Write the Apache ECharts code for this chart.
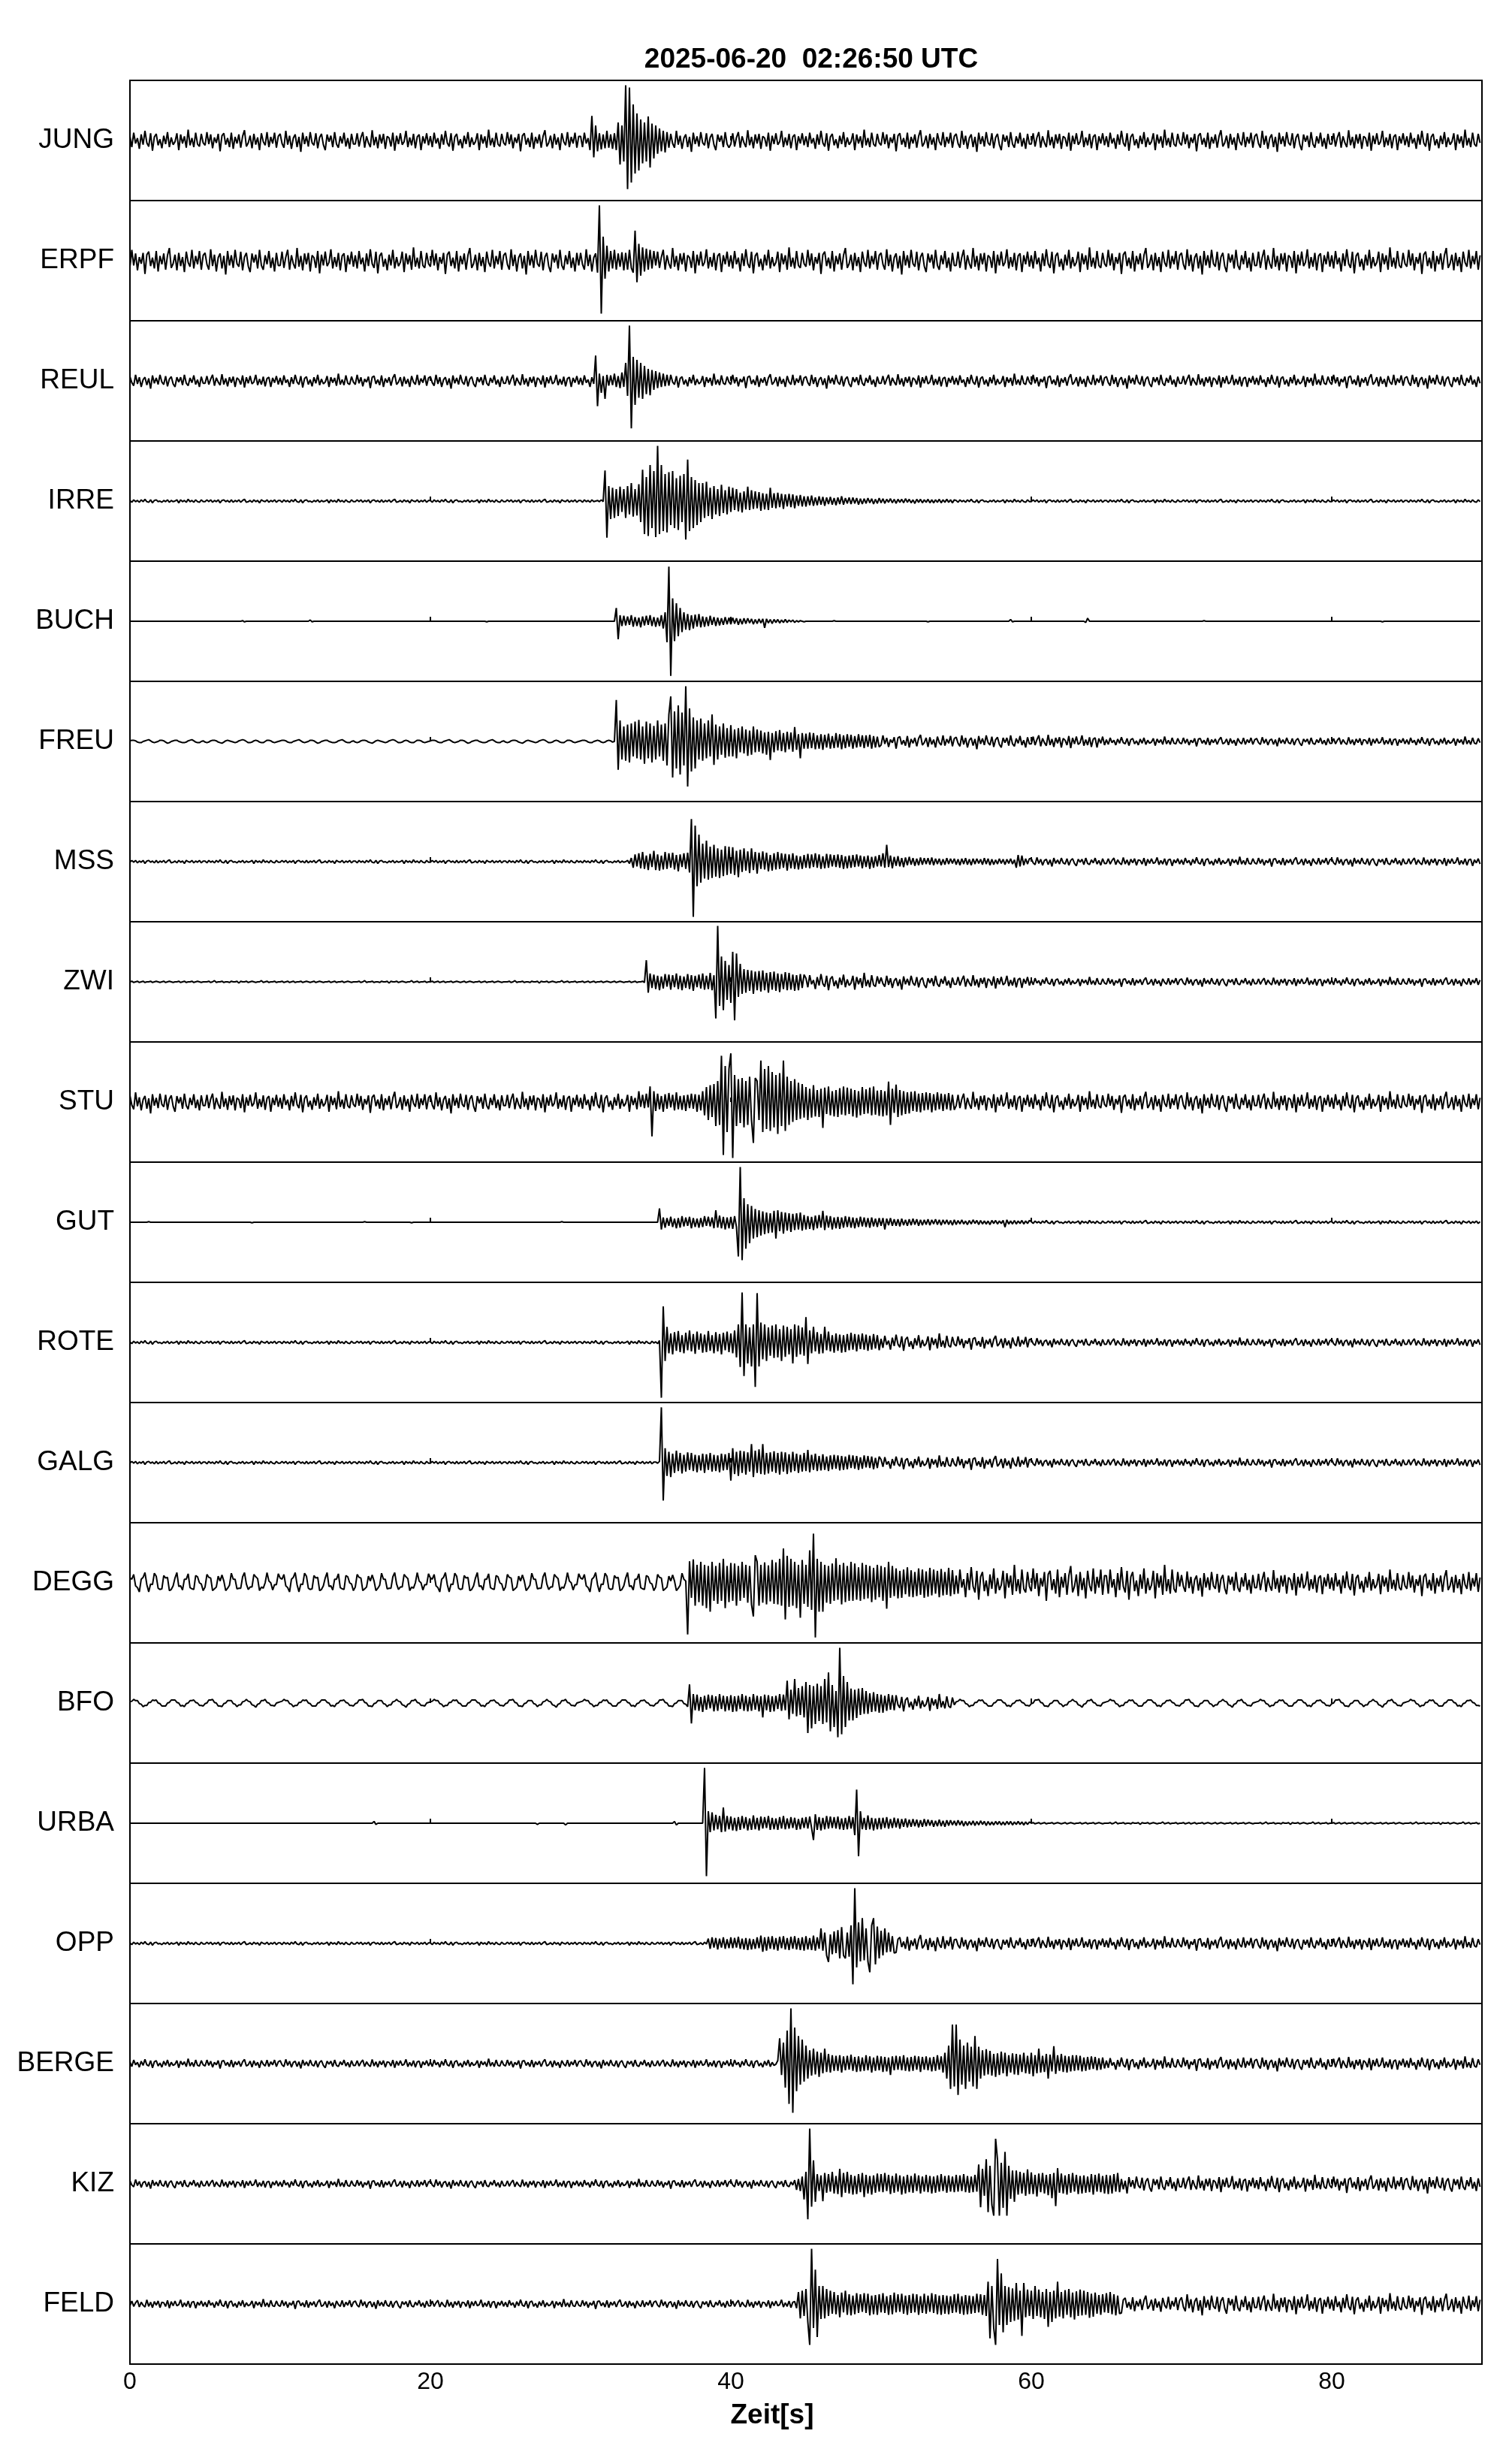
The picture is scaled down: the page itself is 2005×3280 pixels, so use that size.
<!DOCTYPE html>
<html><head><meta charset="utf-8">
<script src="https://cdn.jsdelivr.net/npm/echarts@6/dist/echarts.min.js"></script>
<style>html,body{margin:0;padding:0;background:#fff}#c{width:2005px;height:3280px}</style>
</head><body><div id="c"></div>
<script>
// ---- data: amplitude in % of half panel height, one sample every 0.125 s (each row = 5 s) ----
const titleText = '2025-06-20  02:26:50 UTC';
const xAxisName = 'Zeit[s]';
const stations = ['JUNG','ERPF','REUL','IRRE','BUCH','FREU','MSS','ZWI','STU','GUT','ROTE','GALG','DEGG','BFO','URBA','OPP','BERGE','KIZ','FELD'];
const sampleStep = 0.125;
const timeMin = 0, timeMax = 90, timeTick = 20;

const JUNG = [
7,-11,13,-5,4,-14,10,-7,16,-4,-10,12,-17,6,11,-8,2,-13,8,-6,14,-11,5,-7,-2,12,-16,10,-5,7,-12,18,-8,4,-11,13,-6,-10,11,-4,
-8,14,-6,10,-13,5,-4,11,-18,8,12,-7,4,-11,13,-14,6,-5,10,-12,7,17,-10,-4,8,-13,11,-7,5,-16,12,-2,-8,14,-11,6,-5,13,-12,7,
11,-5,-12,16,-7,8,-14,4,10,-11,6,-19,13,-6,7,-10,14,-4,-8,12,-13,5,11,-7,-16,10,-2,8,-11,14,-6,-12,7,-5,13,-10,4,-14,11,-6,
-6,12,-10,5,14,-12,7,-4,-11,17,-8,6,-13,10,-5,11,-14,7,4,-10,13,-17,8,-6,12,-7,-2,16,-11,5,-8,11,-13,6,10,-16,7,-5,12,-8,
7,-11,13,-5,4,-14,10,-7,16,-4,-10,12,-17,6,11,-8,2,-13,8,-6,14,-11,5,-7,-2,12,-16,10,-5,7,-12,18,-8,4,-11,13,-6,-10,11,-4,
-8,14,-6,10,-13,5,-4,11,-18,8,12,-7,4,-11,13,-14,6,-5,10,-12,7,17,-10,-4,8,-13,11,-7,5,-16,12,-2,-8,14,-11,6,-5,13,-12,7,
7,-11,13,-5,4,-16,41,-28,25,-18,12,-15,10,-13,16,-12,10,-14,12,-16,30,-40,25,-35,92,-81,88,-70,60,-55,45,-50,35,-38,30,-35,40,-45,28,-30,
25,-22,20,-18,16,-20,14,-12,11,-5,-12,16,-7,8,-14,4,10,-11,6,-19,13,-6,7,-10,14,-4,-8,12,-13,5,11,-7,-16,10,-2,8,-11,14,-6,-12,
-6,12,-10,5,14,-12,7,-4,-11,17,-8,6,-13,10,-5,11,-14,7,4,-10,13,-17,8,-6,12,-7,-2,16,-11,5,-8,11,-13,6,10,-16,7,-5,12,-8,
7,-11,13,-5,4,-14,10,-7,16,-4,-10,12,-17,6,11,-8,2,-13,8,-6,14,-11,5,-7,-2,12,-16,10,-5,7,-12,18,-8,4,-11,13,-6,-10,11,-4,
-8,14,-6,10,-13,5,-4,11,-18,8,12,-7,4,-11,13,-14,6,-5,10,-12,7,17,-10,-4,8,-13,11,-7,5,-16,12,-2,-8,14,-11,6,-5,13,-12,7,
11,-5,-12,16,-7,8,-14,4,10,-11,6,-19,13,-6,7,-10,14,-4,-8,12,-13,5,11,-7,-16,10,-2,8,-11,14,-6,-12,7,-5,13,-10,4,-14,11,-6,
-6,12,-10,5,14,-12,7,-4,-11,17,-8,6,-13,10,-5,11,-14,7,4,-10,13,-17,8,-6,12,-7,-2,16,-11,5,-8,11,-13,6,10,-16,7,-5,12,-8,
7,-11,13,-5,4,-14,10,-7,16,-4,-10,12,-17,6,11,-8,2,-13,8,-6,14,-11,5,-7,-2,12,-16,10,-5,7,-12,18,-8,4,-11,13,-6,-10,11,-4,
-8,14,-6,10,-13,5,-4,11,-18,8,12,-7,4,-11,13,-14,6,-5,10,-12,7,17,-10,-4,8,-13,11,-7,5,-16,12,-2,-8,14,-11,6,-5,13,-12,7,
11,-5,-12,16,-7,8,-14,4,10,-11,6,-19,13,-6,7,-10,14,-4,-8,12,-13,5,11,-7,-16,10,-2,8,-11,14,-6,-12,7,-5,13,-10,4,-14,11,-6,
-6,12,-10,5,14,-12,7,-4,-11,17,-8,6,-13,10,-5,11,-14,7,4,-10,13,-17,8,-6,12,-7,-2,16,-11,5,-8,11,-13,6,10,-16,7,-5,12,-8,
7,-11,13,-5,4,-14,10,-7,16,-4,-10,12,-17,6,11,-8,2,-13,8,-6,14,-11,5,-7,-2,12,-16,10,-5,7,-12,18,-8,4,-11,13,-6,-10,11,-4];

const ERPF = [
-10,18,-8,12,-16,6,-5,13,-22,10,15,-9,5,-13,16,-18,8,-6,12,-15,9,21,-12,-5,10,-16,13,-9,6,-19,15,-3,-10,18,-13,8,-6,16,-15,9,
13,-6,-15,19,-9,10,-18,5,12,-13,8,-23,16,-8,9,-12,18,-5,-10,15,-16,6,13,-9,-19,12,-3,10,-13,18,-8,-15,9,-6,16,-12,5,-18,13,-8,
-8,15,-12,6,18,-15,9,-5,-13,21,-10,8,-16,12,-6,13,-18,9,5,-12,16,-21,10,-8,15,-9,-3,19,-13,6,-10,13,-16,8,12,-19,9,-6,15,-10,
9,-13,16,-6,5,-18,12,-9,19,-5,-12,15,-21,8,13,-10,3,-16,10,-8,18,-13,6,-9,-3,15,-19,12,-6,9,-15,22,-10,5,-13,16,-8,-12,13,-5,
-10,18,-8,12,-16,6,-5,13,-22,10,15,-9,5,-13,16,-18,8,-6,12,-15,9,21,-12,-5,10,-16,13,-9,6,-19,15,-3,-10,18,-13,8,-6,16,-15,9,
13,-6,-15,19,-9,10,-18,5,12,-13,8,-23,16,-8,9,-12,18,-5,-10,15,-16,6,13,-9,-19,12,-3,10,-13,18,-8,-15,9,-6,16,-12,5,-18,13,-8,
13,-6,-15,19,-9,10,-18,5,12,-20,92,-88,40,-30,25,-18,16,-13,18,-15,12,-10,14,-16,13,-15,18,-12,-20,50,-36,28,-25,22,-18,20,-15,18,-13,16,
-8,15,-12,6,18,-15,9,-5,-13,21,-10,8,-16,12,-6,13,-18,9,5,-12,16,-21,10,-8,15,-9,-3,19,-13,6,-10,13,-16,8,12,-19,9,-6,15,-10,
9,-13,16,-6,5,-18,12,-9,19,-5,-12,15,-21,8,13,-10,3,-16,10,-8,18,-13,6,-9,-3,15,-19,12,-6,9,-15,22,-10,5,-13,16,-8,-12,13,-5,
-10,18,-8,12,-16,6,-5,13,-22,10,15,-9,5,-13,16,-18,8,-6,12,-15,9,21,-12,-5,10,-16,13,-9,6,-19,15,-3,-10,18,-13,8,-6,16,-15,9,
13,-6,-15,19,-9,10,-18,5,12,-13,8,-23,16,-8,9,-12,18,-5,-10,15,-16,6,13,-9,-19,12,-3,10,-13,18,-8,-15,9,-6,16,-12,5,-18,13,-8,
-8,15,-12,6,18,-15,9,-5,-13,21,-10,8,-16,12,-6,13,-18,9,5,-12,16,-21,10,-8,15,-9,-3,19,-13,6,-10,13,-16,8,12,-19,9,-6,15,-10,
9,-13,16,-6,5,-18,12,-9,19,-5,-12,15,-21,8,13,-10,3,-16,10,-8,18,-13,6,-9,-3,15,-19,12,-6,9,-15,22,-10,5,-13,16,-8,-12,13,-5,
-10,18,-8,12,-16,6,-5,13,-22,10,15,-9,5,-13,16,-18,8,-6,12,-15,9,21,-12,-5,10,-16,13,-9,6,-19,15,-3,-10,18,-13,8,-6,16,-15,9,
13,-6,-15,19,-9,10,-18,5,12,-13,8,-23,16,-8,9,-12,18,-5,-10,15,-16,6,13,-9,-19,12,-3,10,-13,18,-8,-15,9,-6,16,-12,5,-18,13,-8,
-8,15,-12,6,18,-15,9,-5,-13,21,-10,8,-16,12,-6,13,-18,9,5,-12,16,-21,10,-8,15,-9,-3,19,-13,6,-10,13,-16,8,12,-19,9,-6,15,-10,
9,-13,16,-6,5,-18,12,-9,19,-5,-12,15,-21,8,13,-10,3,-16,10,-8,18,-13,6,-9,-3,15,-19,12,-6,9,-15,22,-10,5,-13,16,-8,-12,13,-5,
-10,18,-8,12,-16,6,-5,13,-22,10,15,-9,5,-13,16,-18,8,-6,12,-15,9,21,-12,-5,10,-16,13,-9,6,-19,15,-3,-10,18,-13,8,-6,16,-15,9];

const REUL = [
7,-3,-8,10,-5,6,-10,2,6,-7,4,-13,9,-4,5,-6,10,-2,-6,8,-9,3,7,-5,-10,6,-2,6,-7,10,-4,-8,5,-3,9,-6,2,-10,7,-4,
-4,8,-6,3,10,-8,5,-2,-7,11,-6,4,-9,6,-3,7,-10,5,2,-6,9,-11,6,-4,8,-5,-2,10,-7,3,-6,7,-9,4,6,-10,5,-3,8,-6,
5,-7,9,-3,2,-10,6,-5,10,-2,-6,8,-11,4,7,-6,2,-9,6,-4,10,-7,3,-5,-2,8,-10,6,-3,5,-8,12,-6,2,-7,9,-4,-6,7,-2,
-6,10,-4,6,-9,3,-2,7,-12,6,8,-5,2,-7,9,-10,4,-3,6,-8,5,11,-6,-2,6,-9,7,-5,3,-10,8,-2,-6,10,-7,4,-3,9,-8,5,
7,-3,-8,10,-5,6,-10,2,6,-7,4,-13,9,-4,5,-6,10,-2,-6,8,-9,3,7,-5,-10,6,-2,6,-7,10,-4,-8,5,-3,9,-6,2,-10,7,-4,
-4,8,-6,3,10,-8,5,-2,-7,11,-6,4,-9,6,-3,7,-10,5,2,-6,9,-11,6,-4,8,-5,-2,10,-7,3,-6,7,-9,4,6,-10,5,-3,8,-6,
5,-7,9,-3,2,-10,6,-5,42,-42,12,-20,8,-30,10,-8,9,-7,12,-10,8,-12,14,-10,30,-25,92,-79,40,-40,35,-28,30,-30,25,-22,20,-24,18,-15,
16,-12,14,-10,12,-9,10,-8,10,-2,-6,8,-11,4,7,-6,2,-9,6,-4,10,-7,3,-5,-2,8,-10,6,-3,5,-8,12,-6,2,-7,9,-4,-6,7,-2,
-6,10,-4,6,-9,3,-2,7,-12,6,8,-5,2,-7,9,-10,4,-3,6,-8,5,11,-6,-2,6,-9,7,-5,3,-10,8,-2,-6,10,-7,4,-3,9,-8,5,
7,-3,-8,10,-5,6,-10,2,6,-7,4,-13,9,-4,5,-6,10,-2,-6,8,-9,3,7,-5,-10,6,-2,6,-7,10,-4,-8,5,-3,9,-6,2,-10,7,-4,
-4,8,-6,3,10,-8,5,-2,-7,11,-6,4,-9,6,-3,7,-10,5,2,-6,9,-11,6,-4,8,-5,-2,10,-7,3,-6,7,-9,4,6,-10,5,-3,8,-6,
5,-7,9,-3,2,-10,6,-5,10,-2,-6,8,-11,4,7,-6,2,-9,6,-4,10,-7,3,-5,-2,8,-10,6,-3,5,-8,12,-6,2,-7,9,-4,-6,7,-2,
-6,10,-4,6,-9,3,-2,7,-12,6,8,-5,2,-7,9,-10,4,-3,6,-8,5,11,-6,-2,6,-9,7,-5,3,-10,8,-2,-6,10,-7,4,-3,9,-8,5,
7,-3,-8,10,-5,6,-10,2,6,-7,4,-13,9,-4,5,-6,10,-2,-6,8,-9,3,7,-5,-10,6,-2,6,-7,10,-4,-8,5,-3,9,-6,2,-10,7,-4,
-4,8,-6,3,10,-8,5,-2,-7,11,-6,4,-9,6,-3,7,-10,5,2,-6,9,-11,6,-4,8,-5,-2,10,-7,3,-6,7,-9,4,6,-10,5,-3,8,-6,
5,-7,9,-3,2,-10,6,-5,10,-2,-6,8,-11,4,7,-6,2,-9,6,-4,10,-7,3,-5,-2,8,-10,6,-3,5,-8,12,-6,2,-7,9,-4,-6,7,-2,
-6,10,-4,6,-9,3,-2,7,-12,6,8,-5,2,-7,9,-10,4,-3,6,-8,5,11,-6,-2,6,-9,7,-5,3,-10,8,-2,-6,10,-7,4,-3,9,-8,5,
7,-3,-8,10,-5,6,-10,2,6,-7,4,-13,9,-4,5,-6,10,-2,-6,8,-9,3,7,-5,-10,6,-2,6,-7,10,-4,-8,5,-3,9,-6,2,-10,7,-4];

const IRRE = [
1,-2,2,-1,1,-2,2,-1,3,-1,-2,2,-3,1,2,-1,0,-2,1,-1,2,-2,1,-1,0,2,-3,2,-1,1,-2,3,-1,1,-2,2,-1,-2,2,-1,
-1,2,-1,2,-2,1,-1,2,-3,1,2,-1,1,-2,2,-2,1,-1,2,-2,1,3,-2,-1,1,-2,2,-1,1,-3,2,0,-1,2,-2,1,-1,2,-2,1,
1,-2,2,-1,1,-2,2,-1,3,-1,-2,2,-3,1,2,-1,0,-2,1,-1,2,-2,1,-1,0,2,-3,2,-1,1,-2,3,-1,1,-2,2,-1,-2,2,-1,
-1,2,-1,2,-2,1,-1,2,-3,1,2,-1,1,-2,2,-2,1,-1,2,-2,1,3,-2,-1,1,-2,2,-1,1,-3,2,0,-1,2,-2,1,-1,2,-2,1,
1,-2,2,-1,1,-2,2,-1,3,-1,-2,2,-3,1,2,-1,0,-2,1,-1,2,-2,1,-1,0,2,-3,2,-1,1,-2,3,-1,1,-2,2,-1,-2,2,-1,
-1,2,-1,2,-2,1,-1,2,-3,1,2,-1,1,-2,2,-2,1,-1,2,-2,1,3,-2,-1,1,-2,2,-1,1,-3,2,0,-1,2,-2,1,-1,2,-2,1,
1,-2,2,-1,1,-2,2,-1,0,1,-1,2,-1,51,-61,25,-30,22,-28,20,-25,24,-18,20,-28,25,-22,30,-26,20,-24,28,-35,52,-55,40,-58,60,-45,50,
-60,92,-55,60,-50,45,-52,48,-40,50,-45,38,-48,42,-35,45,-64,69,-50,40,-45,35,-40,30,-35,30,-28,32,-25,22,-30,25,-22,20,-25,27,-20,18,-22,24,
-18,22,-15,20,-17,14,-19,16,-14,24,-15,18,-13,16,-12,15,-16,13,-14,12,-15,22,-11,13,-12,14,-10,12,-13,11,-9,12,-10,11,-12,9,-8,10,-9,8,
-9,8,-7,9,-8,6,-7,8,-6,7,-8,6,-5,7,-6,5,-7,6,-5,8,-6,5,-4,6,-5,6,-4,5,-6,4,-5,4,-4,5,-3,4,-5,3,-4,5,
-3,4,-4,3,-2,4,-3,3,-4,3,-2,3,-3,4,-2,3,-3,2,-4,3,-2,3,-3,2,-2,3,-3,2,-3,2,-2,3,-3,2,-2,3,-2,2,-3,2,
1,-2,2,-1,1,-2,2,-1,3,-1,-2,2,-3,1,2,-1,0,-2,1,-1,2,-2,1,-1,0,2,-3,2,-1,1,-2,3,-1,1,-2,2,-1,-2,2,-1,
-1,2,-1,2,-2,1,-1,2,-3,1,2,-1,1,-2,2,-2,1,-1,2,-2,1,3,-2,-1,1,-2,2,-1,1,-3,2,0,-1,2,-2,1,-1,2,-2,1,
1,-2,2,-1,1,-2,2,-1,3,-1,-2,2,-3,1,2,-1,0,-2,1,-1,2,-2,1,-1,0,2,-3,2,-1,1,-2,3,-1,1,-2,2,-1,-2,2,-1,
-1,2,-1,2,-2,1,-1,2,-3,1,2,-1,1,-2,2,-2,1,-1,2,-2,1,3,-2,-1,1,-2,2,-1,1,-3,2,0,-1,2,-2,1,-1,2,-2,1,
1,-2,2,-1,1,-2,2,-1,3,-1,-2,2,-3,1,2,-1,0,-2,1,-1,2,-2,1,-1,0,2,-3,2,-1,1,-2,3,-1,1,-2,2,-1,-2,2,-1,
-1,2,-1,2,-2,1,-1,2,-3,1,2,-1,1,-2,2,-2,1,-1,2,-2,1,3,-2,-1,1,-2,2,-1,1,-3,2,0,-1,2,-2,1,-1,2,-2,1,
1,-2,2,-1,1,-2,2,-1,3,-1,-2,2,-3,1,2,-1,0,-2,1,-1,2,-2,1,-1,0,2,-3,2,-1,1,-2,3,-1,1,-2,2,-1,-2,2,-1];

const BUCH = [
0,0,0,0,0,0,0,0,0,0, 0,0,0,0,0,0,0,0,0,0, 0,0,0,0,0,0,0,0,0,0, 0,0,0,0,0,0,0,0,0,0,
0,0,0,0,0,0,0,0,0,0, 0,0,0,0,0,0,0,0,0,0, 1,-1,0,0,0,0,0,0,0,0, 0,0,0,0,0,0,0,0,0,0,
0,0,0,0,0,0,0,0,0,0, 0,0,0,0,0,0,2,-1,0,0, 0,0,0,0,0,0,0,0,0,0, 0,0,0,0,0,0,0,0,0,0,
0,0,0,0,0,0,0,0,0,0, 0,0,0,0,0,0,0,0,0,0, 0,0,0,0,0,0,0,0,0,0, 0,0,0,0,0,0,0,0,0,0,
0,0,0,0,0,0,0,0,0,0, 0,0,0,0,0,0,0,0,0,0, 0,0,0,0,0,0,0,0,0,0, -1,0,0,0,0,0,0,0,0,0,
0,0,0,0,0,0,0,0,0,0, 0,0,0,0,0,0,0,0,0,0, 0,0,0,0,0,0,0,0,0,0, 0,0,0,0,0,0,0,0,0,0,
0,0,0,0,0,0,0,0,0,0,0,0,0,0,0,0,0,0,0,22,-30,10,-8,9,-7,8,-6,10,-9,7,-8,6,-10,8,-7,9,-6,10,-8,7,
-9,6,-8,10,-12,15,-35,91,-91,38,-33,30,-25,22,-18,15,-14,12,-15,10,-12,11,-9,12,-10,8,-9,7,-8,9,-6,7,-8,6,-7,5,-6,7,-5,6,
-5,6,-4,5,-6,4,-5,5,-4,5,-3,4,-5,3,-4,4,-3,4,-11,4,-3,3,-4,3,-2,3,-3,2,-2,3,-2,2,-1,2,-2,1,-1,1,0,-1,
0,0,0,0,0,0,0,0,0,0, 0,0,0,0,0,1,0,0,0,0, 0,0,0,0,0,0,0,0,0,0, 0,0,0,0,0,0,0,0,0,0,
0,0,0,0,0,0,0,0,0,0, 0,0,0,0,0,0,0,0,0,0, 0,0,0,0,0,-1,0,0,0,0, 0,0,0,0,0,0,0,0,0,0,
0,0,0,0,0,0,0,0,0,0, 0,0,0,0,0,0,0,0,0,0, 0,0,0,0,0,0,0,0,0,3, -1,0,0,0,0,0,0,0,0,0,
0,0,0,0,0,0,0,0,0,0, 0,0,0,0,0,0,0,0,0,0, 0,0,0,0,0,0,0,0,0,-2, 5,0,0,0,0,0,0,0,0,0,
0,0,0,0,0,0,0,0,0,0, 0,0,0,0,0,0,0,0,0,0, 0,0,0,0,0,0,0,0,0,0, 0,0,0,0,0,0,0,0,0,0,
0,0,0,0,0,0,0,0,0,0, 0,0,1,0,0,0,0,0,0,0, 0,0,0,0,0,0,0,0,0,0, 0,0,0,0,0,0,0,0,0,0,
0,0,0,0,0,0,0,0,0,0, 0,0,0,0,0,0,0,0,0,0, 0,0,0,0,0,0,0,0,0,0, 0,0,0,0,0,0,0,0,0,0,
0,0,0,0,0,0,0,0,0,0, 0,0,0,0,0,0,0,0,0,0, 0,0,0,0,0,0,0,-1,0,0, 0,0,0,0,0,0,0,0,0,0,
0,0,0,0,0,0,0,0,0,0, 0,0,0,0,0,0,0,0,0,0, 0,0,0,0,0,0,0,0,0,0, 0,0,0,0,0,0,0,0,0,0];

const FREU = [
1,2,2,1,-1,-2,-2,0,1,2,3,1,-1,-2,-1,0,2,2,1,-1,-3,-2,0,1,2,2,0,-1,-2,-2,-1,1,2,3,1,-1,-2,-2,0,1,
-1,-2,-1,1,2,2,1,-1,-2,-3,-1,1,2,1,0,-1,-2,-1,1,2,3,2,0,-2,-2,-1,1,2,1,-1,-2,-2,0,2,2,1,-1,-2,-1,0,
1,2,2,1,-1,-2,-2,0,1,2,3,1,-1,-2,-1,0,2,2,1,-1,-3,-2,0,1,2,2,0,-1,-2,-2,-1,1,2,3,1,-1,-2,-2,0,1,
-1,-2,-1,1,2,2,1,-1,-2,-3,-1,1,2,1,0,-1,-2,-1,1,2,3,2,0,-2,-2,-1,1,2,1,-1,-2,-2,0,2,2,1,-1,-2,-1,0,
1,2,2,1,-1,-2,-2,0,1,2,3,1,-1,-2,-1,0,2,2,1,-1,-3,-2,0,1,2,2,0,-1,-2,-2,-1,1,2,3,1,-1,-2,-2,0,1,
-1,-2,-1,1,2,2,1,-1,-2,-3,-1,1,2,1,0,-1,-2,-1,1,2,3,2,0,-2,-2,-1,1,2,1,-1,-2,-2,0,2,2,1,-1,-2,-1,0,
1,2,2,1,-1,-2,-2,0,1,2,1,-1,-2,-1,1,2,1,-1,0,69,-47,35,-30,25,-32,28,-35,30,-25,33,-28,36,-30,25,-37,33,-28,30,-35,26,
-30,35,-25,28,-32,30,-40,45,75,-60,50,-45,60,-55,48,-40,92,-75,55,-50,40,-45,35,-30,38,-32,30,-28,35,-25,45,-39,28,-30,25,-22,30,-27,22,-25,
27,-25,20,-28,22,-18,25,-20,20,-24,18,-22,25,-18,20,-17,18,-20,15,-22,16,-31,14,-18,17,-15,19,-16,14,-18,16,-13,15,-17,24,-14,12,-28,14,-12,
13,-12,15,-11,14,-13,10,-12,12,-14,11,-10,13,-12,9,-11,14,-10,12,-13,10,-11,12,-9,11,-12,9,-10,12,-9,10,-11,10,-9,11,-12,9,-10,8,-9,
-6,10,-4,6,-9,3,-2,7,-12,6,8,-5,2,-7,9,-10,4,-3,6,-8,5,11,-6,-2,6,-9,7,-5,3,-10,8,-2,-6,10,-7,4,-3,9,-8,5,
7,-3,-8,10,-5,6,-10,2,6,-7,4,-13,9,-4,5,-6,10,-2,-6,8,-9,3,7,-5,-10,6,-2,6,-7,10,-4,-8,5,-3,9,-6,2,-10,7,-4,
-4,8,-6,3,10,-8,5,-2,-7,11,-6,4,-9,6,-3,7,-10,5,2,-6,9,-11,6,-4,8,-5,-2,10,-7,3,-6,7,-9,4,6,-10,5,-3,8,-6,
3,-5,6,-2,2,-6,4,-3,7,-2,-4,5,-7,3,5,-4,1,-6,4,-3,6,-5,2,-3,-1,5,-7,4,-2,3,-5,8,-4,2,-5,6,-3,-4,5,-2,
-4,6,-3,4,-6,2,-2,5,-8,4,5,-3,2,-5,6,-6,3,-2,4,-5,3,7,-4,-2,4,-6,5,-3,2,-7,5,-1,-4,6,-5,3,-2,6,-5,3,
5,-2,-5,7,-3,4,-6,2,4,-5,3,-8,6,-3,3,-4,6,-2,-4,5,-6,2,5,-3,-7,4,-1,4,-5,6,-3,-5,3,-2,6,-4,2,-6,5,-3,
-3,5,-4,2,6,-5,3,-2,-5,7,-4,3,-6,4,-2,5,-6,3,2,-4,6,-7,4,-3,5,-3,-1,7,-5,2,-4,5,-6,3,4,-7,3,-2,5,-4,
3,-5,6,-2,2,-6,4,-3,7,-2,-4,5,-7,3,5,-4,1,-6,4,-3,6,-5,2,-3,-1,5,-7,4,-2,3,-5,8,-4,2,-5,6,-3,-4,5,-2];

const MSS = [
-1,2,-1,2,-2,1,-1,2,-3,1,2,-1,1,-2,2,-2,1,-1,2,-2,1,3,-2,-1,1,-2,2,-1,1,-3,2,0,-1,2,-2,1,-1,2,-2,1,
1,-2,2,-1,1,-2,2,-1,3,-1,-2,2,-3,1,2,-1,0,-2,1,-1,2,-2,1,-1,0,2,-3,2,-1,1,-2,3,-1,1,-2,2,-1,-2,2,-1,
-1,2,-1,2,-2,1,-1,2,-3,1,2,-1,1,-2,2,-2,1,-1,2,-2,1,3,-2,-1,1,-2,2,-1,1,-3,2,0,-1,2,-2,1,-1,2,-2,1,
1,-2,2,-1,1,-2,2,-1,3,-1,-2,2,-3,1,2,-1,0,-2,1,-1,2,-2,1,-1,0,2,-3,2,-1,1,-2,3,-1,1,-2,2,-1,-2,2,-1,
-1,2,-1,2,-2,1,-1,2,-3,1,2,-1,1,-2,2,-2,1,-1,2,-2,1,3,-2,-1,1,-2,2,-1,1,-3,2,0,-1,2,-2,1,-1,2,-2,1,
1,-2,2,-1,1,-2,2,-1,3,-1,-2,2,-3,1,2,-1,0,-2,1,-1,2,-2,1,-1,0,2,-3,2,-1,1,-2,3,-1,1,-2,2,-1,-2,2,-1,
1,-2,2,-1,1,-2,2,-1,3,-1,-2,2,-3,1,2,-1,0,-2,1,-1,2,-2,1,-1,0,2,-3,6,-10,12,-8,14,-11,16,-12,10,-14,13,-9,18,
-14,12,-15,10,-13,16,-12,14,-10,15,-13,11,-16,12,-9,14,-12,15,-18,71,-92,60,-41,45,-35,30,-28,35,-30,25,-27,28,-25,22,-27,20,-24,26,-22,25,
-20,24,-22,18,-26,20,-17,22,-15,17,-19,22,-14,16,-20,15,-12,17,-13,15,-16,11,-15,14,-13,16,-12,14,-10,13,-15,12,-11,14,-12,10,-13,9,-12,11,
-10,13,-11,12,-9,14,-10,12,-12,9,-11,13,-10,12,-8,11,-9,12,-10,11,-12,9,-11,10,-10,11,-9,12,-8,10,-11,9,-9,10,-12,8,-10,9,-8,11,
-8,14,-10,28,-9,10,-11,8,-7,9,-8,6,-9,7,-6,8,-5,6,-7,5,-6,7,-5,6,-4,6,-5,7,-6,5,-4,5,-6,4,-5,6,-4,5,-3,5,
-5,4,-6,5,-4,6,-5,4,-6,5,-4,5,-3,4,-5,6,-4,5,-6,4,-5,3,-4,5,-3,4,-5,4,-3,5,-4,3,-10,11,-8,10,-6,5,-4,5,
5,-2,-5,7,-3,4,-6,2,4,-5,3,-8,6,-3,3,-4,6,-2,-4,5,-6,2,5,-3,-7,4,-1,4,-5,6,-3,-5,3,-2,6,-4,2,-6,5,-3,
-3,5,-4,2,6,-5,3,-2,-5,7,-4,3,-6,4,-2,5,-6,3,2,-4,6,-7,4,-3,5,-3,-1,7,-5,2,-4,5,-6,3,4,-7,3,-2,5,-4,
3,-5,6,-2,2,-6,4,-3,7,-2,-4,5,-7,3,5,-4,1,-6,4,-3,6,-5,2,-3,-1,5,-7,4,-2,3,-5,8,-4,2,-5,6,-3,-4,5,-2,
-4,6,-3,4,-6,2,-2,5,-8,4,5,-3,2,-5,6,-6,3,-2,4,-5,3,7,-4,-2,4,-6,5,-3,2,-7,5,-1,-4,6,-5,3,-2,6,-5,3,
5,-2,-5,7,-3,4,-6,2,4,-5,3,-8,6,-3,3,-4,6,-2,-4,5,-6,2,5,-3,-7,4,-1,4,-5,6,-3,-5,3,-2,6,-4,2,-6,5,-3,
-3,5,-4,2,6,-5,3,-2,-5,7,-4,3,-6,4,-2,5,-6,3,2,-4,6,-7,4,-3,5,-3,-1,7,-5,2,-4,5,-6,3,4,-7,3,-2,5,-4];

const ZWI = [
0,1,-1,0,1,-1,0,1,-1,0,0,1,-1,0,1,0,-1,0,1,-1,0,1,0,-1,0,0,1,-1,0,1,-1,0,0,1,-1,0,1,0,-1,0,
0,0,1,-1,0,2,-1,0,0,1,-1,0,0,-1,1,0,0,1,-2,1,0,0,1,-1,0,1,0,-1,0,0,2,-1,0,1,-1,0,0,1,-1,0,
0,1,-1,0,1,-1,0,1,-1,0,0,1,-1,0,1,0,-1,0,1,-1,0,1,0,-1,0,0,1,-1,0,1,-1,0,0,1,-1,0,1,0,-1,0,
0,0,1,-1,0,2,-1,0,0,1,-1,0,0,-1,1,0,0,1,-2,1,0,0,1,-1,0,1,0,-1,0,0,2,-1,0,1,-1,0,0,1,-1,0,
0,1,-1,0,1,-1,0,1,-1,0,0,1,-1,0,1,0,-1,0,1,-1,0,1,0,-1,0,0,1,-1,0,1,-1,0,0,1,-1,0,1,0,-1,0,
0,0,1,-1,0,2,-1,0,0,1,-1,0,0,-1,1,0,0,1,-2,1,0,0,1,-1,0,1,0,-1,0,0,2,-1,0,1,-1,0,0,1,-1,0,
0,1,-1,0,1,-1,0,1,-1,0,0,1,-1,0,1,0,-1,0,1,-1,0,1,0,-1,0,0,1,-1,0,1,-1,0,0,1,-1,36,-18,14,-10,12,
-12,10,-14,9,-11,13,-8,12,-13,11,-9,14,-12,10,-14,9,-10,13,-12,11,-15,10,-9,12,-11,14,-13,10,-12,15,-14,11,-61,93,-40,42,-47,35,-30,28,
-35,50,-64,47,-25,30,-20,21,-18,20,-15,19,-20,17,-14,18,-16,19,-14,15,-18,16,-13,17,-15,14,-17,13,-12,16,-14,15,-13,12,-15,11,-14,13,-10,12,
6,-9,11,-4,3,-12,8,-6,13,-3,-8,10,-14,5,9,-7,2,-11,7,-5,12,-9,4,-6,-2,10,-13,8,-4,6,-10,15,-7,3,-9,11,-5,-8,9,-3,
7,-3,-8,10,-5,6,-10,2,6,-7,4,-13,9,-4,5,-6,10,-2,-6,8,-9,3,7,-5,-10,6,-2,6,-7,10,-4,-8,5,-3,9,-6,2,-10,7,-4,
-4,8,-6,3,10,-8,5,-2,-7,11,-6,4,-9,6,-3,7,-10,5,2,-6,9,-11,6,-4,8,-5,-2,10,-7,3,-6,7,-9,4,6,-10,5,-3,8,-6,
3,-5,6,-2,2,-6,4,-3,7,-2,-4,5,-7,3,5,-4,1,-6,4,-3,6,-5,2,-3,-1,5,-7,4,-2,3,-5,8,-4,2,-5,6,-3,-4,5,-2,
-4,6,-3,4,-6,2,-2,5,-8,4,5,-3,2,-5,6,-6,3,-2,4,-5,3,7,-4,-2,4,-6,5,-3,2,-7,5,-1,-4,6,-5,3,-2,6,-5,3,
5,-2,-5,7,-3,4,-6,2,4,-5,3,-8,6,-3,3,-4,6,-2,-4,5,-6,2,5,-3,-7,4,-1,4,-5,6,-3,-5,3,-2,6,-4,2,-6,5,-3,
-3,5,-4,2,6,-5,3,-2,-5,7,-4,3,-6,4,-2,5,-6,3,2,-4,6,-7,4,-3,5,-3,-1,7,-5,2,-4,5,-6,3,4,-7,3,-2,5,-4,
3,-5,6,-2,2,-6,4,-3,7,-2,-4,5,-7,3,5,-4,1,-6,4,-3,6,-5,2,-3,-1,5,-7,4,-2,3,-5,8,-4,2,-5,6,-3,-4,5,-2,
-4,6,-3,4,-6,2,-2,5,-8,4,5,-3,2,-5,6,-6,3,-2,4,-5,3,7,-4,-2,4,-6,5,-3,2,-7,5,-1,-4,6,-5,3,-2,6,-5,3];

const STU = [
11,-5,-12,16,-7,8,-14,4,10,-11,6,-19,13,-6,7,-10,14,-4,-8,12,-13,5,11,-7,-16,10,-2,8,-11,14,-6,-12,7,-5,13,-10,4,-14,11,-6,
-6,12,-10,5,14,-12,7,-4,-11,17,-8,6,-13,10,-5,11,-14,7,4,-10,13,-17,8,-6,12,-7,-2,16,-11,5,-8,11,-13,6,10,-16,7,-5,12,-8,
7,-11,13,-5,4,-14,10,-7,16,-4,-10,12,-17,6,11,-8,2,-13,8,-6,14,-11,5,-7,-2,12,-16,10,-5,7,-12,18,-8,4,-11,13,-6,-10,11,-4,
-8,14,-6,10,-13,5,-4,11,-18,8,12,-7,4,-11,13,-14,6,-5,10,-12,7,17,-10,-4,8,-13,11,-7,5,-16,12,-2,-8,14,-11,6,-5,13,-12,7,
11,-5,-12,16,-7,8,-14,4,10,-11,6,-19,13,-6,7,-10,14,-4,-8,12,-13,5,11,-7,-16,10,-2,8,-11,14,-6,-12,7,-5,13,-10,4,-14,11,-6,
-6,12,-10,5,14,-12,7,-4,-11,17,-8,6,-13,10,-5,11,-14,7,4,-10,13,-17,8,-6,12,-7,-2,16,-11,5,-8,11,-13,6,10,-16,7,-5,12,-8,
7,-11,13,-5,4,-14,10,-7,16,-4,-10,12,-17,6,11,-8,2,-13,8,-6,14,-11,5,-7,-2,12,-16,10,-5,7,-12,18,-8,12,-10,14,-9,26,-57,18,
-15,14,-12,10,-16,13,-11,15,-9,12,-14,16,-12,10,-13,11,-15,12,-10,14,-11,13,-16,12,-14,18,-22,25,-30,28,-25,30,-40,35,-38,77,-88,60,-50,55,
81,-93,45,-40,38,-35,40,-42,35,-38,42,-30,-68,40,35,-30,69,-50,55,-45,60,-48,50,-42,45,-53,48,-40,69,-48,42,-38,35,-33,38,-30,32,-28,30,-26,
25,-30,22,-26,28,-24,20,-25,22,-43,24,-20,26,-22,18,-24,20,-25,23,-21,26,-22,24,-20,22,-24,20,-26,18,-22,25,-20,21,-19,24,-22,26,-21,19,-23,
20,-24,18,-22,34,-38,22,-18,29,-25,20,-22,18,-20,16,-19,17,-15,18,-16,14,-17,15,-14,16,-13,15,-17,13,-14,16,-12,14,-15,13,-12,15,-14,12,-13,
-6,12,-10,5,14,-12,7,-4,-11,17,-8,6,-13,10,-5,11,-14,7,4,-10,13,-17,8,-6,12,-7,-2,16,-11,5,-8,11,-13,6,10,-16,7,-5,12,-8,
7,-11,13,-5,4,-14,10,-7,16,-4,-10,12,-17,6,11,-8,2,-13,8,-6,14,-11,5,-7,-2,12,-16,10,-5,7,-12,18,-8,4,-11,13,-6,-10,11,-4,
-8,14,-6,10,-13,5,-4,11,-18,8,12,-7,4,-11,13,-14,6,-5,10,-12,7,17,-10,-4,8,-13,11,-7,5,-16,12,-2,-8,14,-11,6,-5,13,-12,7,
11,-5,-12,16,-7,8,-14,4,10,-11,6,-19,13,-6,7,-10,14,-4,-8,12,-13,5,11,-7,-16,10,-2,8,-11,14,-6,-12,7,-5,13,-10,4,-14,11,-6,
-6,12,-10,5,14,-12,7,-4,-11,17,-8,6,-13,10,-5,11,-14,7,4,-10,13,-17,8,-6,12,-7,-2,16,-11,5,-8,11,-13,6,10,-16,7,-5,12,-8,
7,-11,13,-5,4,-14,10,-7,16,-4,-10,12,-17,6,11,-8,2,-13,8,-6,14,-11,5,-7,-2,12,-16,10,-5,7,-12,18,-8,4,-11,13,-6,-10,11,-4,
-8,14,-6,10,-13,5,-4,11,-18,8,12,-7,4,-11,13,-14,6,-5,10,-12,7,17,-10,-4,8,-13,11,-7,5,-16,12,-2,-8,14,-11,6,-5,13,-12,7];

const GUT = [
0,0,0,0,0,0,0,0,0,0, 1,0,0,0,0,0,0,0,0,0, 0,0,0,0,0,0,0,0,0,0, 0,0,0,0,0,0,0,0,0,0,
0,0,0,0,0,0,0,0,0,0, 0,0,0,0,0,0,0,0,0,0, 0,0,0,0,0,-1,0,0,0,0, 0,0,0,0,0,0,0,0,0,0,
0,0,0,0,0,0,0,0,0,0, 0,0,0,0,0,0,0,0,0,0, 0,0,0,0,0,0,0,0,0,0, 0,0,0,0,0,0,0,0,0,0,
0,0,0,0,0,1,0,0,0,0, 0,0,0,0,0,0,0,0,0,0, 0,0,0,0,0,0,0,0,0,0, -1,0,0,0,0,0,0,0,0,0,
0,0,0,0,0,0,0,0,0,0, 0,0,0,0,0,0,0,0,0,0, 0,0,0,0,0,0,0,0,0,0, 0,0,0,0,0,0,0,0,0,0,
0,0,0,0,0,0,0,0,0,0, 0,0,0,0,0,0,0,0,0,0, 0,0,0,0,0,0,0,0,0,0, 1,0,0,0,0,0,0,0,0,0,
0,0,0,0,0,0,0,0,0,0, 0,0,0,0,0,0,0,0,0,0, 0,0,0,0,0,0,0,0,0,0, 0,0,0,0,0,0,0,0,0,0,
0,0,23,-12,8,-9,7,-6,9,-8,6,-10,7,-9,10,-7,8,-6,9,-10,7,-8,6,-9,7,-8,10,-6,9,-7,8,-10,20,-9,11,-10,9,-12,8,-10,
9,-11,10,-8,-57,92,-63,40,-44,30,-35,27,-27,22,-25,20,-22,18,-20,16,-18,15,-17,19,-27,20,-15,17,-19,16,-14,15,-16,14,-13,15,-12,16,-14,12,
-12,10,-11,9,-13,11,-10,12,-9,19,-13,11,-9,10,-12,8,-10,9,-11,8,-9,10,-8,9,-9,8,-10,7,-8,9,-7,8,-8,7,-9,8,-7,6,-8,7,
-6,7,-12,6,-5,7,-6,5,-6,5,-7,6,-5,4,-6,5,-5,6,-4,5,-6,4,-5,4,-4,5,-5,4,-3,5,-4,4,-5,4,-3,4,-4,3,-5,4,
-4,3,-3,4,-3,2,-4,3,-3,4,-2,3,-4,3,-3,2,-3,2,-4,3,-2,3,-3,2,-2,3,-8,4,-3,2,-3,3,-3,2,-2,3,-3,2,-2,3,
1,-2,2,-1,1,-2,2,-1,3,-1,-2,2,-3,1,2,-1,0,-2,1,-1,2,-2,1,-1,0,2,-3,2,-1,1,-2,3,-1,1,-2,2,-1,-2,2,-1,
-1,2,-1,2,-2,1,-1,2,-3,1,2,-1,1,-2,2,-2,1,-1,2,-2,1,3,-2,-1,1,-2,2,-1,1,-3,2,0,-1,2,-2,1,-1,2,-2,1,
1,-2,2,-1,1,-2,2,-1,3,-1,-2,2,-3,1,2,-1,0,-2,1,-1,2,-2,1,-1,0,2,-3,2,-1,1,-2,3,-1,1,-2,2,-1,-2,2,-1,
-1,2,-1,2,-2,1,-1,2,-3,1,2,-1,1,-2,2,-2,1,-1,2,-2,1,3,-2,-1,1,-2,2,-1,1,-3,2,0,-1,2,-2,1,-1,2,-2,1,
1,-2,2,-1,1,-2,2,-1,3,-1,-2,2,-3,1,2,-1,0,-2,1,-1,2,-2,1,-1,0,2,-3,2,-1,1,-2,3,-1,1,-2,2,-1,-2,2,-1,
-1,2,-1,2,-2,1,-1,2,-3,1,2,-1,1,-2,2,-2,1,-1,2,-2,1,3,-2,-1,1,-2,2,-1,1,-3,2,0,-1,2,-2,1,-1,2,-2,1];

const ROTE = [
1,-2,2,-1,1,-2,2,-1,3,-1,-2,2,-3,1,2,-1,0,-2,1,-1,2,-2,1,-1,0,2,-3,2,-1,1,-2,3,-1,1,-2,2,-1,-2,2,-1,
-1,2,-1,2,-2,1,-1,2,-3,1,2,-1,1,-2,2,-2,1,-1,2,-2,1,3,-2,-1,1,-2,2,-1,1,-3,2,0,-1,2,-2,1,-1,2,-2,1,
1,-2,2,-1,1,-2,2,-1,3,-1,-2,2,-3,1,2,-1,0,-2,1,-1,2,-2,1,-1,0,2,-3,2,-1,1,-2,3,-1,1,-2,2,-1,-2,2,-1,
-1,2,-1,2,-2,1,-1,2,-3,1,2,-1,1,-2,2,-2,1,-1,2,-2,1,3,-2,-1,1,-2,2,-1,1,-3,2,0,-1,2,-2,1,-1,2,-2,1,
1,-2,2,-1,1,-2,2,-1,3,-1,-2,2,-3,1,2,-1,0,-2,1,-1,2,-2,1,-1,0,2,-3,2,-1,1,-2,3,-1,1,-2,2,-1,-2,2,-1,
-1,2,-1,2,-2,1,-1,2,-3,1,2,-1,1,-2,2,-2,1,-1,2,-2,1,3,-2,-1,1,-2,2,-1,1,-3,2,0,-1,2,-2,1,-1,2,-2,1,
1,-2,2,-1,1,-2,2,-1,3,-1,-2,2,-3,1,2,-1,0,-2,1,-1,2,-2,1,-1,0,2,-3,2,-1,1,-2,3,-1,1,-2,2,-1,-2,2,-1,
1,-2,3,-92,60,-31,26,-18,15,-20,17,-14,19,-16,12,-18,16,-13,20,-15,14,-19,18,-12,15,-17,13,-16,19,-14,12,-18,17,-15,14,-20,16,-13,18,-16,
15,-18,20,-25,30,-41,83,-56,30,-35,25,-40,30,-74,82,-40,33,-28,30,-31,25,-22,28,-26,30,-25,22,-31,28,-24,26,-20,22,-35,30,-24,28,-20,25,-22,
42,-36,20,-18,26,-15,17,-19,14,-18,26,-13,18,-15,12,-17,15,-14,13,-17,12,-16,14,-13,16,-12,14,-15,13,-11,15,-12,13,-14,11,-12,14,-10,12,-13,
6,-9,11,-4,3,-12,8,-6,13,-3,-8,10,-14,5,9,-7,2,-11,7,-5,12,-9,4,-6,-2,10,-13,8,-4,6,-10,15,-7,3,-9,11,-5,-8,9,-3,
-6,10,-4,6,-9,3,-2,7,-12,6,8,-5,2,-7,9,-10,4,-3,6,-8,5,11,-6,-2,6,-9,7,-5,3,-10,8,-2,-6,10,-7,4,-3,9,-8,5,
5,-2,-5,7,-3,4,-6,2,4,-5,3,-8,6,-3,3,-4,6,-2,-4,5,-6,2,5,-3,-7,4,-1,4,-5,6,-3,-5,3,-2,6,-4,2,-6,5,-3,
-3,5,-4,2,6,-5,3,-2,-5,7,-4,3,-6,4,-2,5,-6,3,2,-4,6,-7,4,-3,5,-3,-1,7,-5,2,-4,5,-6,3,4,-7,3,-2,5,-4,
3,-5,6,-2,2,-6,4,-3,7,-2,-4,5,-7,3,5,-4,1,-6,4,-3,6,-5,2,-3,-1,5,-7,4,-2,3,-5,8,-4,2,-5,6,-3,-4,5,-2,
-4,6,-3,4,-6,2,-2,5,-8,4,5,-3,2,-5,6,-6,3,-2,4,-5,3,7,-4,-2,4,-6,5,-3,2,-7,5,-1,-4,6,-5,3,-2,6,-5,3,
5,-2,-5,7,-3,4,-6,2,4,-5,3,-8,6,-3,3,-4,6,-2,-4,5,-6,2,5,-3,-7,4,-1,4,-5,6,-3,-5,3,-2,6,-4,2,-6,5,-3,
-3,5,-4,2,6,-5,3,-2,-5,7,-4,3,-6,4,-2,5,-6,3,2,-4,6,-7,4,-3,5,-3,-1,7,-5,2,-4,5,-6,3,4,-7,3,-2,5,-4];

const GALG = [
-1,2,-1,2,-2,1,-1,2,-3,1,2,-1,1,-2,2,-2,1,-1,2,-2,1,3,-2,-1,1,-2,2,-1,1,-3,2,0,-1,2,-2,1,-1,2,-2,1,
1,-2,2,-1,1,-2,2,-1,3,-1,-2,2,-3,1,2,-1,0,-2,1,-1,2,-2,1,-1,0,2,-3,2,-1,1,-2,3,-1,1,-2,2,-1,-2,2,-1,
-1,2,-1,2,-2,1,-1,2,-3,1,2,-1,1,-2,2,-2,1,-1,2,-2,1,3,-2,-1,1,-2,2,-1,1,-3,2,0,-1,2,-2,1,-1,2,-2,1,
1,-2,2,-1,1,-2,2,-1,3,-1,-2,2,-3,1,2,-1,0,-2,1,-1,2,-2,1,-1,0,2,-3,2,-1,1,-2,3,-1,1,-2,2,-1,-2,2,-1,
-1,2,-1,2,-2,1,-1,2,-3,1,2,-1,1,-2,2,-2,1,-1,2,-2,1,3,-2,-1,1,-2,2,-1,1,-3,2,0,-1,2,-2,1,-1,2,-2,1,
1,-2,2,-1,1,-2,2,-1,3,-1,-2,2,-3,1,2,-1,0,-2,1,-1,2,-2,1,-1,0,2,-3,2,-1,1,-2,3,-1,1,-2,2,-1,-2,2,-1,
-1,2,-1,2,-2,1,-1,2,-3,1,2,-1,1,-2,2,-2,1,-1,2,-2,1,3,-2,-1,1,-2,2,-1,1,-3,2,0,-1,2,-2,1,-1,2,-2,1,
1,-1,2,92,-63,24,-22,18,-24,15,-17,20,-14,16,-18,13,-15,17,-12,16,-14,13,-16,12,-13,15,-17,14,-12,16,-15,13,-14,12,-16,15,-13,14,-12,16,
-30,24,-19,18,-22,20,-17,19,-20,17,-15,31,-24,20,-17,22,-19,31,-20,16,-18,17,-15,19,-17,16,-20,18,-15,17,-19,14,-16,18,-14,15,-17,13,-15,16,
-14,21,-16,13,-12,15,-14,11,-13,14,-12,10,-14,12,-11,13,-10,12,-13,11,-12,10,-11,13,-9,12,-10,11,-12,9,-10,12,-8,11,-9,10,-11,8,-9,10,
5,-7,9,-3,2,-10,6,-5,10,-2,-6,8,-11,4,7,-6,2,-9,6,-4,10,-7,3,-5,-2,8,-10,6,-3,5,-8,12,-6,2,-7,9,-4,-6,7,-2,
-6,10,-4,6,-9,3,-2,7,-12,6,8,-5,2,-7,9,-10,4,-3,6,-8,5,11,-6,-2,6,-9,7,-5,3,-10,8,-2,-6,10,-7,4,-3,9,-8,5,
5,-2,-5,7,-3,4,-6,2,4,-5,3,-8,6,-3,3,-4,6,-2,-4,5,-6,2,5,-3,-7,4,-1,4,-5,6,-3,-5,3,-2,6,-4,2,-6,5,-3,
-3,5,-4,2,6,-5,3,-2,-5,7,-4,3,-6,4,-2,5,-6,3,2,-4,6,-7,4,-3,5,-3,-1,7,-5,2,-4,5,-6,3,4,-7,3,-2,5,-4,
3,-5,6,-2,2,-6,4,-3,7,-2,-4,5,-7,3,5,-4,1,-6,4,-3,6,-5,2,-3,-1,5,-7,4,-2,3,-5,8,-4,2,-5,6,-3,-4,5,-2,
-4,6,-3,4,-6,2,-2,5,-8,4,5,-3,2,-5,6,-6,3,-2,4,-5,3,7,-4,-2,4,-6,5,-3,2,-7,5,-1,-4,6,-5,3,-2,6,-5,3,
5,-2,-5,7,-3,4,-6,2,4,-5,3,-8,6,-3,3,-4,6,-2,-4,5,-6,2,5,-3,-7,4,-1,4,-5,6,-3,-5,3,-2,6,-4,2,-6,5,-3,
-3,5,-4,2,6,-5,3,-2,-5,7,-4,3,-6,4,-2,5,-6,3,2,-4,6,-7,4,-3,5,-3,-1,7,-5,2,-4,5,-6,3,4,-7,3,-2,5,-4];

const DEGG = [
8,6,14,-5,-8,-15,6,9,17,-3,-15,-2,-3,16,11,-9,-11,-10,12,8,9,-13,-11,-5,8,17,-6,-5,-12,6,6,15,-8,-10,-11,12,10,0,-2,-13,
-7,14,9,8,-13,-10,-7,11,3,13,3,-13,-9,-4,16,6,6,-10,-9,-9,10,17,-2,-11,-7,-7,14,10,7,-13,-7,-9,0,17,3,0,-12,-3,-3,15,
8,6,14,-5,-8,-15,6,9,17,-3,-15,-2,-3,16,11,-9,-11,-10,12,8,9,-13,-11,-5,8,17,-6,-5,-12,6,6,15,-8,-10,-11,12,10,0,-2,-13,
-7,14,9,8,-13,-10,-7,11,3,13,3,-13,-9,-4,16,6,6,-10,-9,-9,10,17,-2,-11,-7,-7,14,10,7,-13,-7,-9,0,17,3,0,-12,-3,-3,15,
8,6,14,-5,-8,-15,6,9,17,-3,-15,-2,-3,16,11,-9,-11,-10,12,8,9,-13,-11,-5,8,17,-6,-5,-12,6,6,15,-8,-10,-11,12,10,0,-2,-13,
-7,14,9,8,-13,-10,-7,11,3,13,3,-13,-9,-4,16,6,6,-10,-9,-9,10,17,-2,-11,-7,-7,14,10,7,-13,-7,-9,0,17,3,0,-12,-3,-3,15,
8,6,14,-5,-8,-15,6,9,17,-3,-15,-2,-3,16,11,-9,-11,-10,12,8,9,-13,-11,-5,8,17,-6,-5,-12,6,6,15,-8,-10,-11,12,10,0,-2,-13,
-7,14,9,8,-13,-10,-7,11,3,13,3,-13,-9,-4,16,6,3,-86,36,-25,39,-38,30,-32,35,-38,30,-42,28,-48,35,-30,28,-35,33,-30,40,-42,28,-32,
33,-30,32,-38,28,-30,35,-25,30,-33,28,-36,-56,46,35,-38,30,-33,34,-36,29,-31,38,-35,34,-36,40,-38,57,-61,45,-40,40,-38,35,-42,30,-58,38,-35,
30,-40,54,-45,82,-91,40,-48,35,-48,30,-33,28,-35,32,-30,41,-28,30,-36,33,-32,28,-30,35,-30,32,-28,26,-30,33,-27,30,-26,28,-32,25,-28,30,-24,
28,-30,26,-43,35,-25,28,-22,24,-26,20,-25,22,-19,26,-23,21,-24,18,-22,24,-20,22,-25,19,-23,25,-21,22,-18,20,-24,23,-21,18,-20,25,-22,21,-19,
12,-18,22,-8,6,-24,16,-12,26,-6,-16,20,-28,10,18,-14,4,-22,14,-10,24,-18,8,-12,-4,20,-26,16,-8,12,-20,30,-14,6,-18,22,-10,-16,18,-6,
-14,24,-10,16,-22,8,-6,18,-30,14,20,-12,6,-18,22,-24,10,-8,16,-20,12,28,-16,-6,14,-22,18,-12,8,-26,20,-4,-14,24,-18,10,-8,22,-20,12,
12,-18,22,-8,6,-24,16,-12,26,-6,-16,20,-28,10,18,-14,4,-22,14,-10,24,-18,8,-12,-4,20,-26,16,-8,12,-20,30,-14,6,-18,22,-10,-16,18,-6,
13,-6,-15,19,-9,10,-18,5,12,-13,8,-23,16,-8,9,-12,18,-5,-10,15,-16,6,13,-9,-19,12,-3,10,-13,18,-8,-15,9,-6,16,-12,5,-18,13,-8,
-8,15,-12,6,18,-15,9,-5,-13,21,-10,8,-16,12,-6,13,-18,9,5,-12,16,-21,10,-8,15,-9,-3,19,-13,6,-10,13,-16,8,12,-19,9,-6,15,-10,
9,-13,16,-6,5,-18,12,-9,19,-5,-12,15,-21,8,13,-10,3,-16,10,-8,18,-13,6,-9,-3,15,-19,12,-6,9,-15,22,-10,5,-13,16,-8,-12,13,-5,
-10,18,-8,12,-16,6,-5,13,-22,10,15,-9,5,-13,16,-18,8,-6,12,-15,9,21,-12,-5,10,-16,13,-9,6,-19,15,-3,-10,18,-13,8,-6,16,-15,9];

const BFO = [
2,3,6,4,4,-1,-2,-6,-4,-4,1,1,5,4,5,0,-1,-5,-5,-5,0,1,5,5,5,1,0,-5,-4,-6,-1,0,4,4,5,1,0,-4,-4,-5,
-1,0,5,5,6,1,0,-5,-5,-6,-1,0,4,4,4,-1,-2,-6,-3,-3,2,3,6,3,2,-3,-4,-7,-2,-1,4,4,6,1,0,-4,-4,-5,0,1,
2,3,6,4,4,-1,-2,-6,-4,-4,1,1,5,4,5,0,-1,-5,-5,-5,0,1,5,5,5,1,0,-5,-4,-6,-1,0,4,4,5,1,0,-4,-4,-5,
-1,0,5,5,6,1,0,-5,-5,-6,-1,0,4,4,4,-1,-2,-6,-3,-3,2,3,6,3,2,-3,-4,-7,-2,-1,4,4,6,1,0,-4,-4,-5,0,1,
2,3,6,4,4,-1,-2,-6,-4,-4,1,1,5,4,5,0,-1,-5,-5,-5,0,1,5,5,5,1,0,-5,-4,-6,-1,0,4,4,5,1,0,-4,-4,-5,
-1,0,5,5,6,1,0,-5,-5,-6,-1,0,4,4,4,-1,-2,-6,-3,-3,2,3,6,3,2,-3,-4,-7,-2,-1,4,4,6,1,0,-4,-4,-5,0,1,
2,3,6,4,4,-1,-2,-6,-4,-4,1,1,5,4,5,0,-1,-5,-5,-5,0,1,5,5,5,1,0,-5,-4,-6,-1,0,4,4,5,1,0,-4,-4,-5,
-1,0,5,5,6,1,0,-5,-5,-6,-1,0,4,4,4,-1,-2,-6,31,-34,15,-12,14,-13,10,-15,12,-11,14,-9,13,-14,11,-13,15,-10,12,-14,11,-12,
13,-15,11,-14,12,-10,15,-13,12,-14,10,-13,15,-11,12,-14,11,-24,14,-12,13,-15,11,-14,12,-10,15,-13,14,-12,37,-27,22,-18,40,-22,25,-20,28,-24,
35,-50,30,-42,28,-35,32,-30,28,-35,40,-32,51,-47,30,-40,20,-57,92,-52,45,-40,35,-29,24,-29,22,-25,24,-20,25,-18,20,-18,16,-15,18,-14,15,-16,
14,-16,12,-13,15,-11,13,-12,13,-3,-8,10,-14,5,9,-7,2,-11,7,-5,12,-9,4,-6,-2,10,-13,8,-4,6,-10,15,-7,3,-9,11,-5,-8,9,-3,
2,3,6,4,4,-1,-2,-6,-4,-4,1,1,5,4,5,0,-1,-5,-5,-5,0,1,5,5,5,1,0,-5,-4,-6,-1,0,4,4,5,1,0,-4,-4,-5,
-1,0,5,5,6,1,0,-5,-5,-6,-1,0,4,4,4,-1,-2,-6,-3,-3,2,3,6,3,2,-3,-4,-7,-2,-1,4,4,6,1,0,-4,-4,-5,0,1,
2,3,6,4,4,-1,-2,-6,-4,-4,1,1,5,4,5,0,-1,-5,-5,-5,0,1,5,5,5,1,0,-5,-4,-6,-1,0,4,4,5,1,0,-4,-4,-5,
-1,0,5,5,6,1,0,-5,-5,-6,-1,0,4,4,4,-1,-2,-6,-3,-3,2,3,6,3,2,-3,-4,-7,-2,-1,4,4,6,1,0,-4,-4,-5,0,1,
2,3,6,4,4,-1,-2,-6,-4,-4,1,1,5,4,5,0,-1,-5,-5,-5,0,1,5,5,5,1,0,-5,-4,-6,-1,0,4,4,5,1,0,-4,-4,-5,
-1,0,5,5,6,1,0,-5,-5,-6,-1,0,4,4,4,-1,-2,-6,-3,-3,2,3,6,3,2,-3,-4,-7,-2,-1,4,4,6,1,0,-4,-4,-5,0,1,
2,3,6,4,4,-1,-2,-6,-4,-4,1,1,5,4,5,0,-1,-5,-5,-5,0,1,5,5,5,1,0,-5,-4,-6,-1,0,4,4,5,1,0,-4,-4,-5];

const URBA = [
0,0,0,0,0,0,0,0,0,0, 0,0,0,0,0,0,0,0,0,0, 0,0,0,0,0,0,0,0,0,0, 0,0,0,0,0,0,0,0,0,0,
0,0,0,0,0,0,0,0,0,0, 0,0,0,0,0,0,0,0,0,0, 0,0,0,0,0,0,0,0,0,0, 0,0,0,0,0,0,0,0,0,0,
0,0,0,0,0,0,0,0,0,0, 0,0,0,0,0,0,0,0,0,0, 0,0,0,0,0,0,0,0,0,0, 0,0,0,0,0,0,0,0,0,0,
0,0,0,0,0,0,0,0,0,0, 3,-2,0,0,0,0,0,0,0,0, 0,0,0,0,0,0,0,0,0,0, 0,0,0,0,0,0,0,0,0,0,
0,0,0,0,0,0,0,0,0,0, 0,0,0,0,0,0,0,0,0,0, 0,0,0,0,0,0,0,0,0,0, 0,0,0,0,0,0,0,0,0,0,
0,0,0,0,0,0,0,0,0,0, 0,0,0,0,0,0,0,-2,0,0, 0,0,0,0,0,0,0,0,0,0, 0,0,-3,0,0,0,0,0,0,0,
0,0,0,0,0,0,0,0,0,0, 0,0,0,0,0,0,0,0,0,0, 0,0,0,0,0,0,0,0,0,0, 0,0,0,0,0,0,0,0,0,0,
0,0,0,0,0,0,0,0,0,0,3,-3,0,0,0,0,0,0,0,0,0,0,0,0,0,0,92,-88,20,-15,18,-12,14,-10,12,-15,26,-14,12,-10,
11,-12,9,-13,10,-11,12,-9,10,-12,8,-11,13,-10,9,-12,11,-9,10,-8,12,-11,9,-10,8,-11,10,-9,12,-10,8,-9,10,-8,9,-11,7,-10,9,-8,
10,-9,11,-8,-28,15,-11,10,-12,9,-10,12,-9,11,-8,10,-9,11,-10,8,-11,9,-10,12,-9,10,-20,56,-55,20,-10,9,-11,13,-10,9,-12,8,-10,9,
-10,9,-8,10,-9,7,-8,9,-7,8,-9,7,-6,8,-7,6,-6,7,-5,6,-7,5,-6,7,-5,6,-4,5,-6,4,-5,6,-5,4,-6,5,-4,5,-3,4,
-4,5,-3,4,-5,3,-4,3,-3,4,-4,3,-3,4,-2,3,-4,3,-3,2,-3,3,-2,3,-3,2,-3,3,-2,3,-3,2,-2,3,-2,2,-3,2,-2,2,
0,1,-1,0,1,-1,0,1,-1,0,0,1,-1,0,1,0,-1,0,1,-1,0,1,0,-1,0,0,1,-1,0,1,-1,0,0,1,-1,0,1,0,-1,0,
0,0,1,-1,0,2,-1,0,0,1,-1,0,0,-1,1,0,0,1,-2,1,0,0,1,-1,0,1,0,-1,0,0,2,-1,0,1,-1,0,0,1,-1,0,
0,1,-1,0,1,-1,0,1,-1,0,0,1,-1,0,1,0,-1,0,1,-1,0,1,0,-1,0,0,1,-1,0,1,-1,0,0,1,-1,0,1,0,-1,0,
0,0,1,-1,0,2,-1,0,0,1,-1,0,0,-1,1,0,0,1,-2,1,0,0,1,-1,0,1,0,-1,0,0,2,-1,0,1,-1,0,0,1,-1,0,
0,1,-1,0,1,-1,0,1,-1,0,0,1,-1,0,1,0,-1,0,1,-1,0,1,0,-1,0,0,1,-1,0,1,-1,0,0,1,-1,0,1,0,-1,0,
0,0,1,-1,0,2,-1,0,0,1,-1,0,0,-1,1,0,0,1,-2,1,0,0,1,-1,0,1,0,-1,0,0,2,-1,0,1,-1,0,0,1,-1,0];

const OPP = [
1,-2,2,-1,1,-2,2,-1,3,-1,-2,2,-3,1,2,-1,0,-2,1,-1,2,-2,1,-1,0,2,-3,2,-1,1,-2,3,-1,1,-2,2,-1,-2,2,-1,
-1,2,-1,2,-2,1,-1,2,-3,1,2,-1,1,-2,2,-2,1,-1,2,-2,1,3,-2,-1,1,-2,2,-1,1,-3,2,0,-1,2,-2,1,-1,2,-2,1,
1,-2,2,-1,1,-2,2,-1,3,-1,-2,2,-3,1,2,-1,0,-2,1,-1,2,-2,1,-1,0,2,-3,2,-1,1,-2,3,-1,1,-2,2,-1,-2,2,-1,
-1,2,-1,2,-2,1,-1,2,-3,1,2,-1,1,-2,2,-2,1,-1,2,-2,1,3,-2,-1,1,-2,2,-1,1,-3,2,0,-1,2,-2,1,-1,2,-2,1,
1,-2,2,-1,1,-2,2,-1,3,-1,-2,2,-3,1,2,-1,0,-2,1,-1,2,-2,1,-1,0,2,-3,2,-1,1,-2,3,-1,1,-2,2,-1,-2,2,-1,
-1,2,-1,2,-2,1,-1,2,-3,1,2,-1,1,-2,2,-2,1,-1,2,-2,1,3,-2,-1,1,-2,2,-1,1,-3,2,0,-1,2,-2,1,-1,2,-2,1,
1,-2,2,-1,1,-2,2,-1,3,-1,-2,2,-3,1,2,-1,0,-2,1,-1,2,-2,1,-1,0,2,-3,2,-1,1,-2,3,-1,1,-2,2,-1,-2,2,-1,
-1,2,-1,2,-2,1,-1,2,-3,1,2,-1,1,-2,2,-2,1,-1,2,-2,1,3,-2,-1,1,-2,2,-1,8,-9,10,-7,9,-10,8,-7,10,-9,7,-8,
10,-8,9,-7,11,-9,8,-10,9,-11,8,-10,7,-9,10,-8,13,-14,10,-12,11,-9,12,-10,9,-12,11,-8,12,-10,9,-11,11,-9,12,-10,9,-11,10,-12,
12,-10,9,-11,13,-12,10,-9,25,-12,18,-20,-31,15,-18,20,-16,22,-25,27,-20,-25,18,-22,30,-68,92,-40,35,-30,42,-28,25,-30,-48,30,42,-35,28,-25,
21,-20,25,-15,18,-14,12,-16,-15,7,10,-6,3,-9,11,-12,5,-4,8,-10,6,14,-8,-3,7,-11,9,-6,4,-13,10,-2,-7,12,-9,5,-4,11,-10,6,
7,-3,-8,10,-5,6,-10,2,6,-7,4,-13,9,-4,5,-6,10,-2,-6,8,-9,3,7,-5,-10,6,-2,6,-7,10,-4,-8,5,-3,9,-6,2,-10,7,-4,
-4,8,-6,3,10,-8,5,-2,-7,11,-6,4,-9,6,-3,7,-10,5,2,-6,9,-11,6,-4,8,-5,-2,10,-7,3,-6,7,-9,4,6,-10,5,-3,8,-6,
5,-7,9,-3,2,-10,6,-5,10,-2,-6,8,-11,4,7,-6,2,-9,6,-4,10,-7,3,-5,-2,8,-10,6,-3,5,-8,12,-6,2,-7,9,-4,-6,7,-2,
-6,10,-4,6,-9,3,-2,7,-12,6,8,-5,2,-7,9,-10,4,-3,6,-8,5,11,-6,-2,6,-9,7,-5,3,-10,8,-2,-6,10,-7,4,-3,9,-8,5,
7,-3,-8,10,-5,6,-10,2,6,-7,4,-13,9,-4,5,-6,10,-2,-6,8,-9,3,7,-5,-10,6,-2,6,-7,10,-4,-8,5,-3,9,-6,2,-10,7,-4,
-4,8,-6,3,10,-8,5,-2,-7,11,-6,4,-9,6,-3,7,-10,5,2,-6,9,-11,6,-4,8,-5,-2,10,-7,3,-6,7,-9,4,6,-10,5,-3,8,-6,
5,-7,9,-3,2,-10,6,-5,10,-2,-6,8,-11,4,7,-6,2,-9,6,-4,10,-7,3,-5,-2,8,-10,6,-3,5,-8,12,-6,2,-7,9,-4,-6,7,-2];

const BERGE = [
3,-5,6,-2,2,-6,4,-3,7,-2,-4,5,-7,3,5,-4,1,-6,4,-3,6,-5,2,-3,-1,5,-7,4,-2,3,-5,8,-4,2,-5,6,-3,-4,5,-2,
-4,6,-3,4,-6,2,-2,5,-8,4,5,-3,2,-5,6,-6,3,-2,4,-5,3,7,-4,-2,4,-6,5,-3,2,-7,5,-1,-4,6,-5,3,-2,6,-5,3,
5,-2,-5,7,-3,4,-6,2,4,-5,3,-8,6,-3,3,-4,6,-2,-4,5,-6,2,5,-3,-7,4,-1,4,-5,6,-3,-5,3,-2,6,-4,2,-6,5,-3,
-3,5,-4,2,6,-5,3,-2,-5,7,-4,3,-6,4,-2,5,-6,3,2,-4,6,-7,4,-3,5,-3,-1,7,-5,2,-4,5,-6,3,4,-7,3,-2,5,-4,
3,-5,6,-2,2,-6,4,-3,7,-2,-4,5,-7,3,5,-4,1,-6,4,-3,6,-5,2,-3,-1,5,-7,4,-2,3,-5,8,-4,2,-5,6,-3,-4,5,-2,
-4,6,-3,4,-6,2,-2,5,-8,4,5,-3,2,-5,6,-6,3,-2,4,-5,3,7,-4,-2,4,-6,5,-3,2,-7,5,-1,-4,6,-5,3,-2,6,-5,3,
5,-2,-5,7,-3,4,-6,2,4,-5,3,-8,6,-3,3,-4,6,-2,-4,5,-6,2,5,-3,-7,4,-1,4,-5,6,-3,-5,3,-2,6,-4,2,-6,5,-3,
-3,5,-4,2,6,-5,3,-2,-5,7,-4,3,-6,4,-2,5,-6,3,2,-4,6,-7,4,-3,5,-3,-1,7,-5,2,-4,5,-6,3,4,-7,3,-2,5,-4,
3,-5,6,-2,2,-6,4,-3,7,-2,-4,5,-7,3,5,-4,1,-6,4,-3,6,-5,2,-3,-1,5,42,-19,35,-40,55,-67,92,-82,60,-46,46,-35,40,-30,
30,-25,22,-20,25,-18,20,-22,18,-16,25,-14,16,-15,14,-12,13,-12,14,-15,12,-11,13,-10,15,-12,11,-14,12,-13,10,-12,14,-11,12,-15,10,-12,13,-11,
12,-14,11,-13,10,-19,12,-11,13,-10,12,-11,14,-12,10,-13,11,-12,13,-10,12,-14,11,-10,12,-11,10,-13,11,-12,14,-10,12,-15,18,-25,30,-42,65,-38,
65,-52,40,-35,30,-42,35,-30,28,-38,46,-42,28,-25,22,-20,24,-18,21,-20,16,-22,17,-19,20,-16,18,-21,14,-15,17,-18,16,-19,15,-14,18,-16,13,-17,
18,-21,14,-16,25,-15,13,-14,16,-25,15,-13,29,-17,14,-12,16,-14,13,-15,12,-13,14,-12,14,-11,13,-13,10,-12,11,-10,12,-9,11,-11,9,-10,10,-8,
5,-7,9,-3,2,-10,6,-5,10,-2,-6,8,-11,4,7,-6,2,-9,6,-4,10,-7,3,-5,-2,8,-10,6,-3,5,-8,12,-6,2,-7,9,-4,-6,7,-2,
-6,10,-4,6,-9,3,-2,7,-12,6,8,-5,2,-7,9,-10,4,-3,6,-8,5,11,-6,-2,6,-9,7,-5,3,-10,8,-2,-6,10,-7,4,-3,9,-8,5,
7,-3,-8,10,-5,6,-10,2,6,-7,4,-13,9,-4,5,-6,10,-2,-6,8,-9,3,7,-5,-10,6,-2,6,-7,10,-4,-8,5,-3,9,-6,2,-10,7,-4,
-4,8,-6,3,10,-8,5,-2,-7,11,-6,4,-9,6,-3,7,-10,5,2,-6,9,-11,6,-4,8,-5,-2,10,-7,3,-6,7,-9,4,6,-10,5,-3,8,-6,
5,-7,9,-3,2,-10,6,-5,10,-2,-6,8,-11,4,7,-6,2,-9,6,-4,10,-7,3,-5,-2,8,-10,6,-3,5,-8,12,-6,2,-7,9,-4,-6,7,-2];

const KIZ = [
5,-2,-5,7,-3,4,-6,2,4,-5,3,-8,6,-3,3,-4,6,-2,-4,5,-6,2,5,-3,-7,4,-1,4,-5,6,-3,-5,3,-2,6,-4,2,-6,5,-3,
-3,5,-4,2,6,-5,3,-2,-5,7,-4,3,-6,4,-2,5,-6,3,2,-4,6,-7,4,-3,5,-3,-1,7,-5,2,-4,5,-6,3,4,-7,3,-2,5,-4,
3,-5,6,-2,2,-6,4,-3,7,-2,-4,5,-7,3,5,-4,1,-6,4,-3,6,-5,2,-3,-1,5,-7,4,-2,3,-5,8,-4,2,-5,6,-3,-4,5,-2,
-4,6,-3,4,-6,2,-2,5,-8,4,5,-3,2,-5,6,-6,3,-2,4,-5,3,7,-4,-2,4,-6,5,-3,2,-7,5,-1,-4,6,-5,3,-2,6,-5,3,
5,-2,-5,7,-3,4,-6,2,4,-5,3,-8,6,-3,3,-4,6,-2,-4,5,-6,2,5,-3,-7,4,-1,4,-5,6,-3,-5,3,-2,6,-4,2,-6,5,-3,
-3,5,-4,2,6,-5,3,-2,-5,7,-4,3,-6,4,-2,5,-6,3,2,-4,6,-7,4,-3,5,-3,-1,7,-5,2,-4,5,-6,3,4,-7,3,-2,5,-4,
3,-5,6,-2,2,-6,4,-3,7,-2,-4,5,-7,3,5,-4,1,-6,4,-3,6,-5,2,-3,-1,5,-7,4,-2,3,-5,8,-4,2,-5,6,-3,-4,5,-2,
-4,6,-3,4,-6,2,-2,5,-8,4,5,-3,2,-5,6,-6,3,-2,4,-5,3,7,-4,-2,4,-6,5,-3,2,-7,5,-1,-4,6,-5,3,-2,6,-5,3,
5,-2,-5,7,-3,4,-6,2,4,-5,3,-8,6,-3,3,-4,6,-2,-4,5,-6,2,5,-3,-7,4,-1,4,-5,6,-3,-5,3,-2,6,-10,8,-12,12,-26,
20,-59,92,-38,39,-30,16,-12,14,-29,18,-15,16,-13,20,-16,13,-17,25,-22,18,-15,20,-16,15,-18,13,-17,16,-14,18,-22,15,-16,13,-18,14,-15,17,-13,
16,-14,18,-12,15,-17,13,-15,17,-13,14,-18,12,-16,15,-14,13,-15,17,-12,14,-16,12,-13,15,-14,13,-16,12,-15,14,-13,16,-12,13,-15,14,-13,12,-14,
15,-13,14,-12,16,-14,13,-15,12,-14,15,-13,32,-39,25,-20,41,-47,30,-35,-53,75,40,-53,35,-40,53,-53,30,-25,22,-30,22,-18,20,-16,18,-20,24,-17,
19,-17,15,-21,17,-14,18,-16,15,-19,16,-24,18,-37,26,-15,17,-16,14,-18,16,-15,18,-13,15,-17,13,-16,14,-15,12,-14,16,-18,15,-13,17,-14,13,-16,
15,-17,14,-16,16,-13,18,-14,8,-9,5,-16,11,-5,6,-8,12,-3,-7,10,-11,4,9,-6,-13,8,-2,7,-9,12,-5,-10,6,-4,11,-8,3,-12,9,-5,
-5,10,-8,4,12,-10,6,-3,-9,14,-7,5,-11,8,-4,9,-12,6,3,-8,11,-14,7,-5,10,-6,-2,13,-9,4,-7,9,-11,5,8,-13,6,-4,10,-7,
6,-9,11,-4,3,-12,8,-6,13,-3,-8,10,-14,5,9,-7,2,-11,7,-5,12,-9,4,-6,-2,10,-13,8,-4,6,-10,15,-7,3,-9,11,-5,-8,9,-3,
-7,12,-5,8,-11,4,-3,9,-15,7,10,-6,3,-9,11,-12,5,-4,8,-10,6,14,-8,-3,7,-11,9,-6,4,-13,10,-2,-7,12,-9,5,-4,11,-10,6,
9,-4,-10,13,-6,7,-12,3,8,-9,5,-16,11,-5,6,-8,12,-3,-7,10,-11,4,9,-6,-13,8,-2,7,-9,12,-5,-10,6,-4,11,-8,3,-12,9,-5];

const FELD = [
-3,5,-4,2,6,-5,3,-2,-5,7,-4,3,-6,4,-2,5,-6,3,2,-4,6,-7,4,-3,5,-3,-1,7,-5,2,-4,5,-6,3,4,-7,3,-2,5,-4,
3,-5,6,-2,2,-6,4,-3,7,-2,-4,5,-7,3,5,-4,1,-6,4,-3,6,-5,2,-3,-1,5,-7,4,-2,3,-5,8,-4,2,-5,6,-3,-4,5,-2,
-4,6,-3,4,-6,2,-2,5,-8,4,5,-3,2,-5,6,-6,3,-2,4,-5,3,7,-4,-2,4,-6,5,-3,2,-7,5,-1,-4,6,-5,3,-2,6,-5,3,
5,-2,-5,7,-3,4,-6,2,4,-5,3,-8,6,-3,3,-4,6,-2,-4,5,-6,2,5,-3,-7,4,-1,4,-5,6,-3,-5,3,-2,6,-4,2,-6,5,-3,
-3,5,-4,2,6,-5,3,-2,-5,7,-4,3,-6,4,-2,5,-6,3,2,-4,6,-7,4,-3,5,-3,-1,7,-5,2,-4,5,-6,3,4,-7,3,-2,5,-4,
3,-5,6,-2,2,-6,4,-3,7,-2,-4,5,-7,3,5,-4,1,-6,4,-3,6,-5,2,-3,-1,5,-7,4,-2,3,-5,8,-4,2,-5,6,-3,-4,5,-2,
-4,6,-3,4,-6,2,-2,5,-8,4,5,-3,2,-5,6,-6,3,-2,4,-5,3,7,-4,-2,4,-6,5,-3,2,-7,5,-1,-4,6,-5,3,-2,6,-5,3,
5,-2,-5,7,-3,4,-6,2,4,-5,3,-8,6,-3,3,-4,6,-2,-4,5,-6,2,5,-3,-7,4,-1,4,-5,6,-3,-5,3,-2,6,-4,2,-6,5,-3,
-3,5,-4,2,6,-5,3,-2,-5,7,-4,3,-6,4,-2,5,-6,3,2,-4,6,-7,4,-3,5,-3,-1,7,-5,2,-4,5,-6,3,4,-7,20,-24,22,-20,
25,-30,-68,92,-40,57,-55,30,-25,30,-24,25,-20,22,-16,20,-17,15,-22,19,-14,22,-18,16,-19,14,-17,18,-15,16,-13,18,-15,17,-19,14,-17,15,-18,16,
-14,18,-15,13,-18,15,-17,19,-14,16,-13,17,-16,14,-18,15,-15,17,-14,16,-18,13,-15,17,-16,14,-13,18,-15,16,-17,14,-18,15,-16,14,-17,13,-15,16,
-14,17,-16,13,-18,15,-17,14,-16,13,-15,17,-14,16,-18,15,-20,37,-57,30,-40,-68,75,-35,51,-47,30,-35,28,-30,26,-28,35,-26,22,-53,35,-22,24,-20,
22,-25,30,-20,24,-22,20,-25,25,-38,20,-30,22,-24,37,-21,20,-24,23,-18,25,-22,19,-26,21,-20,24,-19,22,-18,20,-23,17,-21,19,-16,15,-18,16,-14,
18,-15,20,-17,16,-19,14,-16,-15,7,10,-6,3,-9,11,-12,5,-4,8,-10,6,14,-8,-3,7,-11,9,-6,4,-13,10,-2,-7,12,-9,5,-4,11,-10,6,
11,-5,-12,16,-7,8,-14,4,10,-11,6,-19,13,-6,7,-10,14,-4,-8,12,-13,5,11,-7,-16,10,-2,8,-11,14,-6,-12,7,-5,13,-10,4,-14,11,-6,
-6,12,-10,5,14,-12,7,-4,-11,17,-8,6,-13,10,-5,11,-14,7,4,-10,13,-17,8,-6,12,-7,-2,16,-11,5,-8,11,-13,6,10,-16,7,-5,12,-8,
7,-11,13,-5,4,-14,10,-7,16,-4,-10,12,-17,6,11,-8,2,-13,8,-6,14,-11,5,-7,-2,12,-16,10,-5,7,-12,18,-8,4,-11,13,-6,-10,11,-4,
-8,14,-6,10,-13,5,-4,11,-18,8,12,-7,4,-11,13,-14,6,-5,10,-12,7,17,-10,-4,8,-13,11,-7,5,-16,12,-2,-8,14,-11,6,-5,13,-12,7];

const traces = [JUNG, ERPF, REUL, IRRE, BUCH, FREU, MSS, ZWI, STU, GUT, ROTE, GALG, DEGG, BFO, URBA, OPP, BERGE, KIZ, FELD];

// ---- chart ----
const FONT = 'Liberation Sans, Arial, Helvetica, sans-serif';
const plotLeft = 173, plotWidth = 1800, plotTop = 107, panelH = 160;
const n = stations.length;
const grid = [], xAxis = [], yAxis = [], series = [];
for (let i = 0; i < n; i++) {
  const last = i === n - 1;
  grid.push({left: plotLeft, width: plotWidth, top: plotTop + panelH * i, height: panelH,
    show: true, borderColor: '#000', borderWidth: 2, backgroundColor: 'transparent', containLabel: false});
  xAxis.push({gridIndex: i, type: 'value', min: timeMin, max: timeMax, interval: timeTick,
    axisLine: {show: false}, splitLine: {show: false},
    axisTick: {show: true, inside: true, length: 6, lineStyle: {color: '#000', width: 2}},
    axisLabel: {show: last, showMaxLabel: false, fontSize: 32, color: '#000', fontFamily: FONT, margin: 8},
    name: last ? xAxisName : '', nameLocation: 'middle', nameGap: 50,
    nameTextStyle: {fontSize: 37, fontWeight: 'bold', color: '#000', fontFamily: FONT, padding: [0, 90, 0, 0]}});
  yAxis.push({gridIndex: i, type: 'value', min: -100, max: 100,
    axisLine: {show: false}, axisTick: {show: false}, axisLabel: {show: false}, splitLine: {show: false},
    name: stations[i], nameLocation: 'middle', nameRotate: 0, nameGap: 21,
    nameTextStyle: {fontSize: 37, color: '#000', fontFamily: FONT, align: 'right', verticalAlign: 'middle'}});
  series.push({type: 'line', xAxisIndex: i, yAxisIndex: i, showSymbol: false, symbol: 'none',
    silent: true, animation: false, clip: true,
    lineStyle: {color: '#000', width: 2},
    data: traces[i].map((v, k) => [k * sampleStep, v])});
}

const chart = echarts.init(document.getElementById('c'), null, {renderer: 'canvas', width: 2005, height: 3280});
chart.setOption({
  backgroundColor: '#fff',
  animation: false,
  grid, xAxis, yAxis, series,
  graphic: [{type: 'text', x: 1080, y: 80, style: {text: titleText, font: 'bold 37px ' + FONT,
    fill: '#000', textAlign: 'center', textVerticalAlign: 'middle', align: 'center', verticalAlign: 'middle'}}]
});
</script>
</body></html>
